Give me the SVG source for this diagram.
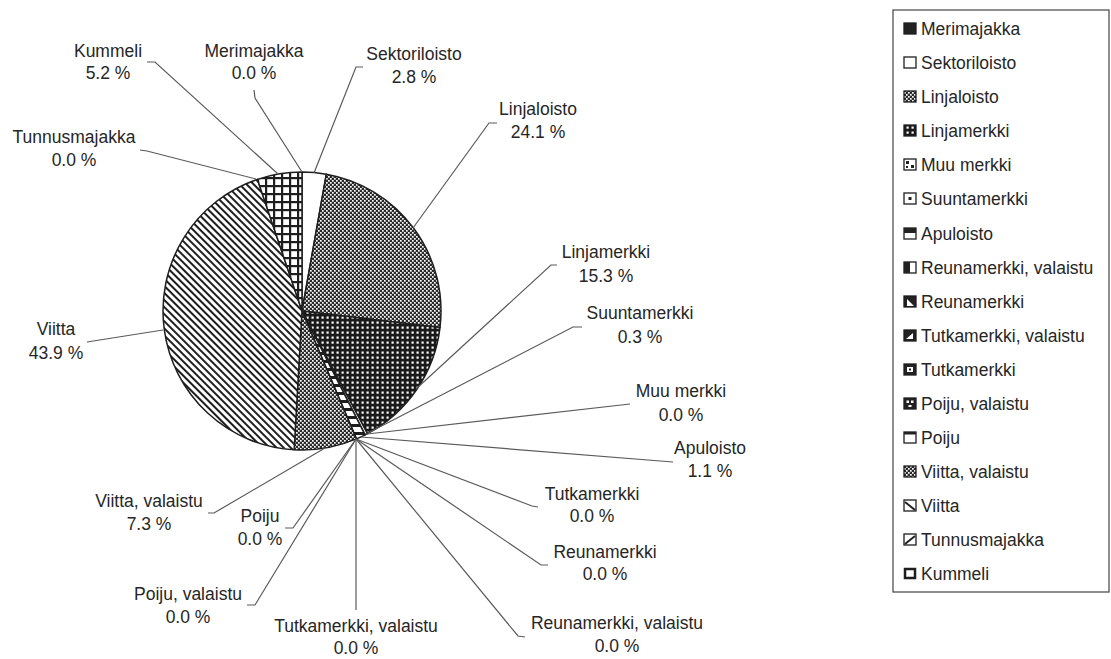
<svg xmlns="http://www.w3.org/2000/svg" width="1111" height="659" viewBox="0 0 1111 659">
<style>
text{font-family:"Liberation Sans",Arial,sans-serif;font-size:17.5px;fill:#262626}
.lbl{text-anchor:middle}
.slice{stroke:#1e1e1e;stroke-width:1.5;stroke-linejoin:round}
.lead{fill:none;stroke:#5a5a5a;stroke-width:1.2}
.sw{stroke:#1e1e1e;stroke-width:1.3}
</style>
<defs>
<pattern id="pChk" width="4" height="4" patternUnits="userSpaceOnUse">
<rect width="4" height="4" fill="#2a2a2a"/>
<rect width="1.7" height="1.7" fill="#fff"/>
<rect x="2" y="2" width="1.7" height="1.7" fill="#fff"/>
</pattern>
<pattern id="pDots" width="5" height="5" patternUnits="userSpaceOnUse">
<rect width="5" height="5" fill="#1a1a1a"/>
<rect x="1.5" y="1.5" width="2.2" height="2.2" fill="#fff"/>
</pattern>
<pattern id="pDiag" width="5" height="5" patternUnits="userSpaceOnUse" patternTransform="rotate(45)">
<rect width="5" height="5" fill="#fff"/>
<rect width="5" height="2" fill="#1e1e1e"/>
</pattern>
<pattern id="pGrid" width="8" height="8" patternUnits="userSpaceOnUse" x="1" y="1">
<rect width="8" height="8" fill="#fff"/>
<rect width="8" height="2.2" fill="#1e1e1e"/>
<rect width="2.2" height="8" fill="#1e1e1e"/>
</pattern>
<pattern id="pHor" width="8" height="8" patternUnits="userSpaceOnUse">
<rect width="8" height="8" fill="#fff"/>
<rect width="8" height="3" fill="#1e1e1e"/>
</pattern>
</defs>
<rect width="1111" height="659" fill="#fff"/>

<g id="pie">
<path id="slice-sektoriloisto" class="slice" fill="#fff" d="M302 311 L302 172 A139 139 0 0 1 326.33 174.14 Z"/>
<path id="slice-linjaloisto" class="slice" fill="url(#pChk)" d="M302 311 L326.33 174.14 A139 139 0 0 1 440.01 327.56 Z"/>
<path id="slice-linjamerkki" class="slice" fill="url(#pDots)" d="M302 311 L440.01 327.56 A139 139 0 0 1 367.43 433.64 Z"/>
<path id="slice-suuntamerkki" class="slice" fill="#fff" d="M302 311 L367.43 433.64 A139 139 0 0 1 365.10 434.85 Z"/>
<path id="slice-apuloisto" class="slice" fill="url(#pHor)" d="M302 311 L365.10 434.85 A139 139 0 0 1 356.40 438.91 Z"/>
<path id="slice-viitta-valaistu" class="slice" fill="url(#pChk)" d="M302 311 L356.40 438.91 A139 139 0 0 1 294.14 449.78 Z"/>
<path id="slice-viitta" class="slice" fill="url(#pDiag)" d="M302 311 L294.14 449.78 A139 139 0 0 1 257.38 179.36 Z"/>
<path id="slice-kummeli" class="slice" fill="url(#pGrid)" d="M302 311 L257.38 179.36 A139 139 0 0 1 302 172 Z"/>
</g>

<g id="connectors">
<polyline class="lead" points="147,62 155,62 278,174"/>
<polyline class="lead" points="254,90 255,98 302,172"/>
<polyline class="lead" points="363,67 356,67 314,173"/>
<polyline class="lead" points="497,123 489,123 413,228"/>
<polyline class="lead" points="557,265 551,265 416,389"/>
<polyline class="lead" points="582,327 573,327 368,433"/>
<polyline class="lead" points="630,404 367,434"/>
<polyline class="lead" points="673,462 361,437"/>
<polyline class="lead" points="538,507 532,506 356,439"/>
<polyline class="lead" points="548,565 541,565 356,439"/>
<polyline class="lead" points="525,637 518,636 356,439"/>
<polyline class="lead" points="356,610 356,439"/>
<polyline class="lead" points="247,605 255,605 356,439"/>
<polyline class="lead" points="285,528 293,528 356,439"/>
<polyline class="lead" points="208,513 214,513 325,448"/>
<polyline class="lead" points="87,342 163,330"/>
<polyline class="lead" points="140,150 147,151 256,179"/>
</g>

<g id="label-kummeli" class="lbl"><text x="108" y="57">Kummeli</text><text x="108" y="79">5.2 %</text></g>
<g id="label-merimajakka" class="lbl"><text x="254" y="57">Merimajakka</text><text x="254" y="79">0.0 %</text></g>
<g id="label-sektoriloisto" class="lbl"><text x="414" y="60">Sektoriloisto</text><text x="414" y="83">2.8 %</text></g>
<g id="label-linjaloisto" class="lbl"><text x="538" y="115">Linjaloisto</text><text x="538" y="138">24.1 %</text></g>
<g id="label-linjamerkki" class="lbl"><text x="606" y="258">Linjamerkki</text><text x="606" y="282">15.3 %</text></g>
<g id="label-suuntamerkki" class="lbl"><text x="640" y="319">Suuntamerkki</text><text x="640" y="343">0.3 %</text></g>
<g id="label-muu-merkki" class="lbl"><text x="681" y="397">Muu merkki</text><text x="681" y="421">0.0 %</text></g>
<g id="label-apuloisto" class="lbl"><text x="710" y="454">Apuloisto</text><text x="710" y="477">1.1 %</text></g>
<g id="label-tutkamerkki" class="lbl"><text x="592" y="500">Tutkamerkki</text><text x="592" y="522">0.0 %</text></g>
<g id="label-reunamerkki" class="lbl"><text x="605" y="558">Reunamerkki</text><text x="605" y="580">0.0 %</text></g>
<g id="label-reunamerkki-valaistu" class="lbl"><text x="617" y="629">Reunamerkki, valaistu</text><text x="617" y="652">0.0 %</text></g>
<g id="label-tutkamerkki-valaistu" class="lbl"><text x="356" y="632">Tutkamerkki, valaistu</text><text x="356" y="654">0.0 %</text></g>
<g id="label-poiju-valaistu" class="lbl"><text x="188" y="600">Poiju, valaistu</text><text x="188" y="623">0.0 %</text></g>
<g id="label-poiju" class="lbl"><text x="260" y="522">Poiju</text><text x="260" y="545">0.0 %</text></g>
<g id="label-viitta-valaistu" class="lbl"><text x="149" y="507">Viitta, valaistu</text><text x="149" y="530">7.3 %</text></g>
<g id="label-viitta" class="lbl"><text x="56" y="335">Viitta</text><text x="56" y="359">43.9 %</text></g>
<g id="label-tunnusmajakka" class="lbl"><text x="74" y="143">Tunnusmajakka</text><text x="74" y="166">0.0 %</text></g>

<g id="legend">
<rect x="893" y="10" width="216" height="582" fill="#fff" stroke="#444" stroke-width="1.2"/>
<g id="leg-merimajakka"><rect class="sw" x="904" y="23" width="12" height="11" fill="#222"/><text x="921" y="35">Merimajakka</text></g>
<g id="leg-sektoriloisto"><rect class="sw" x="904" y="57" width="12" height="11" fill="#fff"/><text x="921" y="69">Sektoriloisto</text></g>
<g id="leg-linjaloisto"><rect class="sw" x="904" y="91" width="12" height="11" fill="url(#pChk)"/><text x="921" y="103">Linjaloisto</text></g>
<g id="leg-linjamerkki"><rect class="sw" x="904" y="125" width="12" height="11" fill="url(#pDots)"/><text x="921" y="137">Linjamerkki</text></g>
<g id="leg-muu-merkki"><rect class="sw" x="904" y="159" width="12" height="11" fill="#fff"/><rect x="906" y="161" width="3" height="3" fill="#222"/><rect x="911" y="165" width="3" height="3" fill="#222"/><rect x="906" y="166" width="2" height="2" fill="#222"/><text x="921" y="171">Muu merkki</text></g>
<g id="leg-suuntamerkki"><rect class="sw" x="904" y="193" width="12" height="11" fill="#fff"/><rect x="908.5" y="197" width="3" height="3" fill="#222"/><text x="921" y="205">Suuntamerkki</text></g>
<g id="leg-apuloisto"><rect class="sw" x="904" y="228" width="12" height="11" fill="#fff"/><rect x="904" y="228" width="12" height="5" fill="#222"/><text x="921" y="240">Apuloisto</text></g>
<g id="leg-reunamerkki-valaistu"><rect class="sw" x="904" y="262" width="12" height="11" fill="#fff"/><rect x="904" y="262" width="6" height="11" fill="#222"/><text x="921" y="274">Reunamerkki, valaistu</text></g>
<g id="leg-reunamerkki"><rect class="sw" x="904" y="296" width="12" height="11" fill="#222"/><polygon points="907,299 914,306 907,306" fill="#fff"/><text x="921" y="308">Reunamerkki</text></g>
<g id="leg-tutkamerkki-valaistu"><rect class="sw" x="904" y="330" width="12" height="11" fill="#222"/><polygon points="913,333 906,339 913,339" fill="#fff"/><text x="921" y="342">Tutkamerkki, valaistu</text></g>
<g id="leg-tutkamerkki"><rect class="sw" x="904" y="364" width="12" height="11" fill="#222"/><rect x="907" y="367" width="6" height="5" fill="#fff"/><rect x="909" y="368.5" width="2" height="2" fill="#222"/><text x="921" y="376">Tutkamerkki</text></g>
<g id="leg-poiju-valaistu"><rect class="sw" x="904" y="398" width="12" height="11" fill="#222"/><rect x="906.5" y="400.5" width="2.5" height="2.5" fill="#fff"/><rect x="911" y="400.5" width="2.5" height="2.5" fill="#fff"/><rect x="908.5" y="405" width="3" height="2" fill="#fff"/><text x="921" y="410">Poiju, valaistu</text></g>
<g id="leg-poiju"><rect class="sw" x="904" y="432" width="12" height="11" fill="#fff"/><rect x="904" y="432" width="12" height="2.5" fill="#222"/><text x="921" y="444">Poiju</text></g>
<g id="leg-viitta-valaistu"><rect class="sw" x="904" y="466" width="12" height="11" fill="url(#pChk)"/><text x="921" y="478">Viitta, valaistu</text></g>
<g id="leg-viitta"><rect class="sw" x="904" y="500" width="12" height="11" fill="#fff"/><line x1="905" y1="502" x2="915" y2="510" stroke="#222" stroke-width="2"/><text x="921" y="512">Viitta</text></g>
<g id="leg-tunnusmajakka"><rect class="sw" x="904" y="534" width="12" height="11" fill="#fff"/><line x1="905" y1="544" x2="915" y2="536" stroke="#222" stroke-width="2"/><text x="921" y="546">Tunnusmajakka</text></g>
<g id="leg-kummeli"><rect x="905" y="569" width="10" height="9" fill="#fff" stroke="#1e1e1e" stroke-width="2.5"/><text x="921" y="580">Kummeli</text></g>
</g>
</svg>
